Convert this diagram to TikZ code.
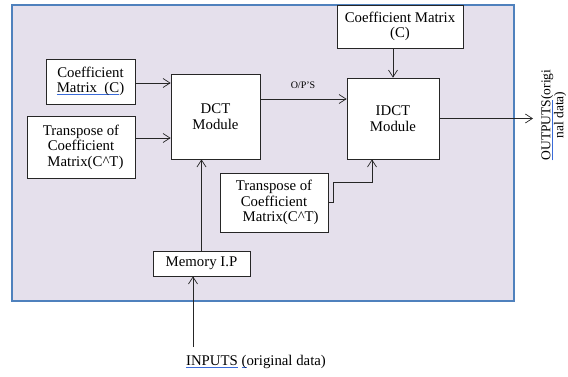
\documentclass[tikz,border=0pt]{standalone}
\usepackage{fontspec}
\setmainfont{Liberation Serif}
\usetikzlibrary{arrows.meta}
\definecolor{lav}{HTML}{E5E0EC}
\definecolor{bord}{HTML}{4F81BD}
\definecolor{spell}{HTML}{3A6BD8}
\newsavebox\myulbox
\newcommand\spellul[1]{\sbox\myulbox{#1}\rlap{\textcolor{spell}{\rule[-0.35ex]{\wd\myulbox}{0.8pt}}}\usebox\myulbox}
\tikzset{
  blk/.style={draw=black!85, fill=white, line width=0.7pt, inner sep=0pt, align=center},
  arr/.style={draw=black!85, line width=0.7pt, -{Straight Barb[length=7pt,width=9pt]}},
  lbl/.style={inner sep=0pt, align=center}
}
\begin{document}
\begin{tikzpicture}[x=1pt,y=-1pt,font=\fontsize{14.8}{15.5}\selectfont]
\useasboundingbox (0,0) rectangle (568,376);
\draw[fill=lav, draw=bord, line width=2pt] (12,5) rectangle (514,301);

\node[blk, minimum width=89pt, minimum height=45pt] (coef1) at (90.5,81.5)
  {Coefficient\\\spellul{Matrix\ \ (C})};
\node[blk, minimum width=108pt, minimum height=62pt] (tr1) at (81,147)
  {Transpose of\\Coefficient\\\hspace*{0.6em}Matrix(C\textasciicircum T)};
\node[blk, minimum width=89pt, minimum height=85pt] (dct) at (215.5,116.5)
  {DCT\\Module};
\node[blk, minimum width=126pt, minimum height=43pt] (ctop) at (400,26.5)
  {Coefficient Matrix\\(C)};
\node[blk, minimum width=92pt, minimum height=81pt] (idct) at (393,118.5)
  {IDCT\\Module};
\node[blk, minimum width=108pt, minimum height=59pt] (tr2) at (274,202.5)
  {Transpose of\\Coefficient\\\hspace*{0.9em}Matrix(C\textasciicircum T)};
\node[blk, minimum width=97pt, minimum height=25pt] (mem) at (201.5,263.5)
  {Memory I.P};

\coordinate (a1) at (0,83);
\coordinate (a2) at (0,138);
\coordinate (op) at (0,99);
\coordinate (k1) at (333,182);
\coordinate (k2) at (372,182);
\coordinate (inp) at (193,347);
\coordinate (outend) at (533,118);

\draw[arr] (coef1.east |- a1) -- (dct.west |- a1);
\draw[arr] (tr1.east |- a2) -- (dct.west |- a2);
\draw[arr] (dct.east |- op) -- (idct.west |- op);
\node[lbl, font=\fontsize{10}{12}\selectfont] (oplbl) at (303,85) {O/P'S};
\draw[arr] (idct.north |- ctop.south) -- (idct.north);
\draw[arr] (tr2.east) -| (k1) -- (k2) -- (k2 |- idct.south);
\draw[arr] (mem.north) -- (mem.north |- dct.south);
\draw[arr] (inp) -- (inp |- mem.south);
\draw[arr] (idct.east) -- (idct.east -| outend);

\node[lbl] (inlbl) at (256,362) {\spellul{INPUTS} \spellul{(}original data)};
\node[lbl, rotate=90, font=\fontsize{13.5}{13}\selectfont] (outlbl) at (553.5,115)
  {\spellul{OUTPUTS}(origi\\nal data)};
\end{tikzpicture}
\end{document}
